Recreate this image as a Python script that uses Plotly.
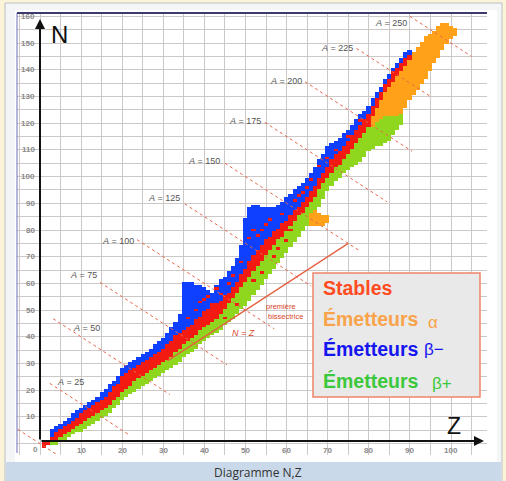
import numpy as np
import plotly.graph_objects as go

# ---------------- data ----------------
band_z = list(range(1, 91))
green_low = [-1, 0, 0, 0, 1, 2, 3, 4, 5, 5,
             6, 7, 8, 9, 10, 11, 12, 14, 15, 17,
             18, 19, 20, 21, 22, 23, 24, 25, 26, 27,
             28, 29, 30, 31, 33, 34, 35, 36, 38, 39,
             40, 41, 42, 43, 45, 46, 47, 49, 51, 52,
             54, 56, 58, 60, 62, 64, 66, 68, 70, 72,
             74, 76, 78, 80, 82, 84, 86, 89, 92, 95,
             97, 99, 100, 102, 103, 104, 105, 106, 108, 110,
             111, 112, 112, 113, 114, 116, 118, 120, 142, 144]
red_low = [-1, 0, 1, 2, 3, 4, 5, 6, 7, 8,
           9, 10, 11, 12, 13, 14, 15, 17, 18, 20,
           21, 22, 24, 25, 26, 27, 28, 29, 30, 31,
           32, 33, 35, 36, 38, 39, 40, 41, 43, 44,
           45, 46, 47, 49, 51, 53, 55, 57, 59, 61,
           63, 65, 67, 69, 71, 73, 75, 77, 78, 80,
           82, 84, 86, 87, 89, 91, 93, 96, 98, 100,
           102, 104, 105, 107, 109, 111, 113, 115, 117, 119,
           123, 126, 129, 132, 134, 136, 138, 140, 142, 144]
red_high = [1, 1, 2, 4, 5, 6, 7, 8, 9, 11,
            12, 13, 14, 15, 16, 17, 19, 21, 22, 25,
            26, 27, 28, 29, 30, 31, 32, 33, 34, 35,
            37, 38, 40, 41, 42, 43, 44, 46, 47, 49,
            50, 51, 52, 53, 55, 56, 58, 60, 63, 65,
            68, 70, 72, 74, 76, 77, 79, 80, 82, 83,
            85, 87, 88, 90, 92, 94, 96, 99, 101, 103,
            106, 108, 109, 111, 113, 115, 117, 119, 121, 123,
            126, 129, 131, 134, 136, 138, 140, 142, 144, 145]
blue_high = [1, 1, 5, 6, 7, 8, 9, 11, 12, 13,
             14, 15, 16, 17, 19, 20, 22, 23, 25, 28,
             29, 30, 31, 32, 33, 34, 35, 37, 38, 39,
             41, 43, 45, 48, 60, 60, 60, 59, 59, 58,
             57, 56, 59, 61, 62, 64, 66, 69, 74, 84,
             88, 89, 89, 88, 88, 88, 88, 89, 90, 92,
             93, 95, 96, 97, 99, 101, 103, 106, 108, 111,
             112, 113, 114, 116, 117, 119, 121, 123, 124, 126,
             129, 131, 133, 136, 138, 140, 142, 144, 146, 147]

alpha_z = [66, 67, 68, 69, 70,
           81, 82, 83, 84, 85, 86, 87, 88, 89, 90, 91, 92, 93, 94, 95, 96, 97, 98, 99, 100, 101]
alpha_low = [82, 82, 82, 82, 83,
             119, 121, 122, 123, 123, 123, 123, 124, 126, 129, 131, 133, 135, 137, 140, 143, 145, 148, 150, 152, 153]
alpha_high = [86, 87, 86, 85, 85,
              122, 125, 128, 131, 133, 135, 137, 139, 141, 143, 146, 148, 150, 152, 153, 154, 156, 157, 157, 156, 155]

extra_stable_z = [36, 38, 39, 41, 42, 44, 46, 47, 51, 52, 53, 54, 55, 59, 60, 62, 63, 65, 66,
                  54, 52, 72, 75, 78, 86, 68, 70, 57, 45, 48, 40, 43, 49, 56, 58, 61, 64]
extra_stable_n = [47, 50, 53, 55, 52, 56, 60, 63, 77, 80, 78, 80, 82, 86, 76, 91, 93, 96, 99,
                  64, 61, 110, 115, 121, 139, 104, 107, 70, 47, 52, 54, 58, 68, 84, 73, 80, 94]

A_values = [0, 25, 50, 75, 100, 125, 150, 175, 200, 225, 250]
A_z_start = [-5.4, 2.4, 3.2, 14.6, 23.6, 35.2, 45.0, 54.7, 64.5, 77.0, 90.0]
A_z_end = [4.1, 22.0, 31.6, 45.5, 57.0, 66.0, 77.5, 84.4, 90.5, 95.4, 105.0]
bisector_z = [31.0, 75.0]

x_tick_labels = [10, 20, 30, 40, 50, 60, 70, 80, 90, 100]
y_tick_labels = [10, 20, 30, 40, 50, 60, 70, 80, 90, 100, 110, 120, 130, 140, 150, 160]

legend_lines = ["Stables", "Émetteurs", "Émetteurs", "Émetteurs"]
legend_symbols = ["", "α", "β−", "β+"]

# ---------------- geometry helpers (layout only) ----------------
W, H = 506, 481
PL, PR, PT, PB = 17, 487, 13, 455           # plot area in pixels
PX_PER_Z, Z0_PX = 4.11, 40.0
PX_PER_N, N0_PX = 2.671, 443.7
x_range = [(PL - Z0_PX) / PX_PER_Z, (PR - Z0_PX) / PX_PER_Z]
y_range = [(N0_PX - PB) / PX_PER_N, (N0_PX - PT) / PX_PER_N]


def fx(px):
    return (px - PL) / (PR - PL)


def fy(py):
    return (PB - py) / (PB - PT)


def dz(px):
    return (px - Z0_PX) / PX_PER_Z


def dn(py):
    return (N0_PX - py) / PX_PER_N


def text_px(px, py, text, font, xanchor="center", yanchor="middle"):
    return dict(x=fx(px), y=fy(py), xref="paper", yref="paper", text=text, showarrow=False,
                font=font, xanchor=xanchor, yanchor=yanchor)


# ---------------- build cell matrix ----------------
Zs = np.arange(-1, 103)
Ns = np.arange(-2, 162)
M = np.full((len(Ns), len(Zs)), np.nan)


def put(z, n0, n1, v):
    for n in range(n0, n1 + 1):
        M[n - Ns[0], z - Zs[0]] = v


for i, z in enumerate(band_z):
    put(z, green_low[i], red_low[i] - 1, 1)
    put(z, red_high[i] + 1, blue_high[i], 3)
for z, lo, hi in zip(alpha_z, alpha_low, alpha_high):
    put(z, lo, hi, 2)
for i, z in enumerate(band_z):
    put(z, red_low[i], red_high[i], 4)
for z, n in zip(extra_stable_z, extra_stable_n):
    put(z, n, n, 4)

GREEN, ORANGE, BLUE, RED = "#8fd61f", "#ffa21a", "#1040ff", "#f31a12"
cscale = [[0, GREEN], [0.25, GREEN], [0.25, ORANGE], [0.5, ORANGE],
          [0.5, BLUE], [0.75, BLUE], [0.75, RED], [1, RED]]

fig = go.Figure()
fig.add_trace(go.Heatmap(x=Zs, y=Ns, z=M, colorscale=cscale, zmin=0.5, zmax=4.5,
                         showscale=False, hoverinfo="skip", zsmooth=False))

# iso-A dashed lines
for A, z0, z1 in zip(A_values, A_z_start, A_z_end):
    fig.add_trace(go.Scatter(x=[z0, z1], y=[A - z0, A - z1], mode="lines",
                             line=dict(color="#e8664a", width=1, dash="3px,3px"),
                             hoverinfo="skip", showlegend=False))

# first bisector N = Z
fig.add_trace(go.Scatter(x=bisector_z, y=bisector_z, mode="lines",
                         line=dict(color="#e5603f", width=1.3),
                         hoverinfo="skip", showlegend=False))

shapes = [
    dict(type="rect", xref="paper", yref="paper", x0=fx(5), x1=fx(502), y0=fy(483), y1=fy(3),
         fillcolor="#f3f5f7", line=dict(color="#b9c0c8", width=1), layer="below"),
    dict(type="rect", xref="paper", yref="paper", x0=fx(15), x1=fx(497), y0=fy(462), y1=fy(10),
         fillcolor="#ffffff", line=dict(width=0), layer="below"),
    dict(type="rect", xref="paper", yref="paper", x0=fx(6), x1=fx(501), y0=fy(482), y1=fy(462),
         fillcolor="#c9d9ea", line=dict(width=0), layer="below"),
    dict(type="line", xref="paper", yref="paper", x0=fx(17), x1=fx(17), y0=fy(453), y1=fy(13),
         line=dict(color="#6c6cb8", width=1), layer="above"),
    dict(type="rect", xref="paper", yref="paper", x0=fx(313), x1=fx(480), y0=fy(397), y1=fy(273),
         fillcolor="#e9e9e9", line=dict(color="#f0846a", width=1.5), layer="above"),
]

LBL = dict(family="Liberation Sans", size=8, color="#8a8a8a")
ann = []
for v in x_tick_labels:
    ann.append(dict(x=v, y=fy(450), xref="x", yref="paper", text="<b>%d</b>" % v,
                    showarrow=False, font=LBL, xanchor="center", yanchor="middle"))
for v in y_tick_labels:
    ann.append(dict(x=fx(37), y=v, xref="paper", yref="y", text="<b>%d</b>" % v,
                    showarrow=False, font=LBL, xanchor="right", yanchor="middle"))
ann.append(text_px(35, 449, "<b>0</b>", LBL))

# axes arrows
ann.append(dict(x=dz(484), y=dn(441), ax=0, ay=dn(441), xref="x", yref="y", axref="x", ayref="y",
                showarrow=True, arrowhead=2, arrowsize=1, arrowwidth=2, arrowcolor="#111", text=""))
ann.append(dict(x=0, y=dn(19), ax=0, ay=dn(441), xref="x", yref="y", axref="x", ayref="y",
                showarrow=True, arrowhead=2, arrowsize=1, arrowwidth=2, arrowcolor="#111", text=""))
ann.append(text_px(59, 34, "N", dict(family="Liberation Sans", size=24, color="#111")))
ann.append(text_px(454, 426, "Z", dict(family="Liberation Sans", size=23, color="#111")))

# iso-A labels
A_label_px = [None, (70, 382), (86, 328), (83, 275), (118, 241), (164, 198), (204, 161),
              (245, 121), (286, 81), (337, 48), (391, 23)]
ALBL = dict(family="Liberation Sans", size=9, color="#555")
for A, p in zip(A_values, A_label_px):
    if p is None:
        continue
    ann.append(text_px(p[0], p[1], "<i>A</i> = %d" % A, ALBL))

RED_TXT = "#d9442c"
ann.append(text_px(243, 333, "<i>N = Z</i>", dict(family="Liberation Sans", size=9, color=RED_TXT)))
ann.append(text_px(281, 306, "première", dict(family="Liberation Sans", size=7.5, color=RED_TXT)))
ann.append(text_px(285, 316, "bissectrice", dict(family="Liberation Sans", size=7.5, color=RED_TXT)))

# legend texts
leg_colors = ["#ff4b1f", "#f9a34a", "#1515f0", "#3cc83c"]
leg_y = [288, 319, 349, 381]
sym_pos = [None, (426, 322), (422, 349), (430, 383)]
for txt, sym, col, y, sp in zip(legend_lines, legend_symbols, leg_colors, leg_y, sym_pos):
    ann.append(text_px(321, y, "<b>%s</b>" % txt,
                       dict(family="Liberation Sans", size=19.5, color=col), xanchor="left"))
    if sym:
        ann.append(text_px(sp[0], sp[1], sym,
                           dict(family="Liberation Sans", size=17, color=col), xanchor="left"))

# caption
ann.append(text_px(258, 472, "Diagramme N,Z", dict(family="Open Sans", size=12, color="#333")))

fig.update_layout(
    width=W, height=H,
    margin=dict(l=PL, r=W - PR, t=PT, b=H - PB),
    paper_bgcolor="#fcf4d9",
    plot_bgcolor="rgba(0,0,0,0)",
    shapes=shapes,
    annotations=ann,
    showlegend=False,
    xaxis=dict(range=x_range, dtick=5, tick0=0, showgrid=True, gridcolor="#cdc8c8", gridwidth=1,
               showticklabels=False, zeroline=False, showline=False, ticks="", fixedrange=True),
    yaxis=dict(range=y_range, dtick=5, tick0=0, showgrid=True, gridcolor="#cdc8c8", gridwidth=1,
               showticklabels=False, zeroline=False, showline=False, ticks="", fixedrange=True),
)
fig.add_shape(type="line", xref="paper", yref="paper", x0=0, x1=1, y0=fy(13), y1=fy(13),
              line=dict(color="#3b3b6e", width=2), layer="above")

fig.write_html("out.html", config={"displayModeBar": False},
               post_script="document.body.style.margin='0';document.body.style.overflow='hidden';"
                           "document.body.style.background='#fcf4d9';")
